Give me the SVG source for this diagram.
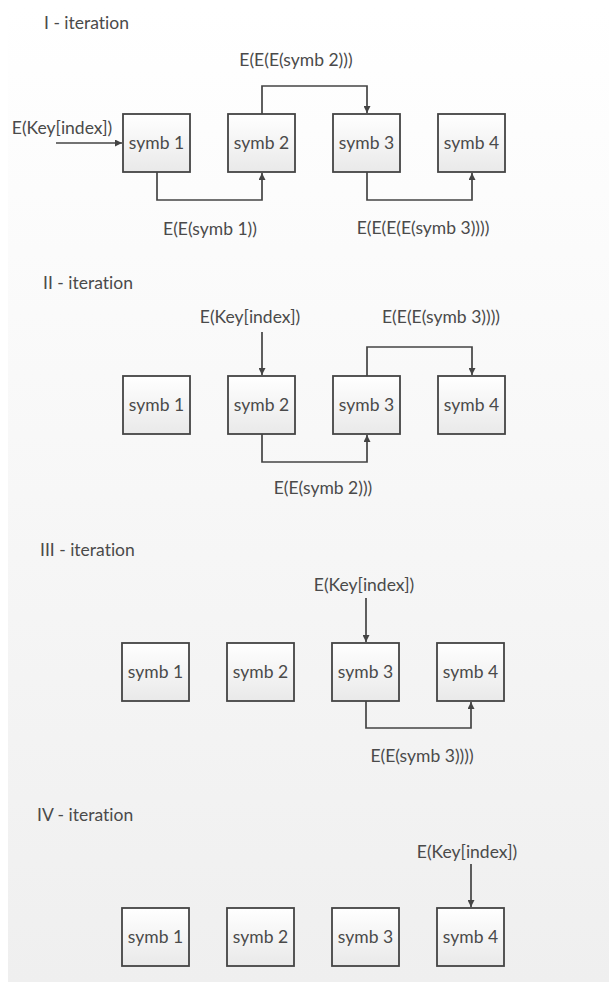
<svg xmlns="http://www.w3.org/2000/svg" width="609" height="987" viewBox="0 0 609 987">
<defs>
<linearGradient id="bg" x1="0" y1="0" x2="0" y2="1">
<stop offset="0" stop-color="#ffffff"/>
<stop offset="1" stop-color="#efefef"/>
</linearGradient>
<linearGradient id="box" x1="0" y1="0" x2="0" y2="1">
<stop offset="0" stop-color="#ffffff"/>
<stop offset="1" stop-color="#e9e9e9"/>
</linearGradient>
<marker id="arr" viewBox="0 0 10 10" refX="10" refY="5" markerWidth="7" markerHeight="7" markerUnits="userSpaceOnUse" orient="auto">
<path d="M0,0 L10,5 L0,10 z" fill="#444444"/>
</marker>
</defs>
<style>
.t{font-family:Lato,"Open Sans","Liberation Sans",sans-serif;font-size:17.5px;fill:#4a4a4a;font-variant-ligatures:none}
.m{text-anchor:middle}
.b{fill:url(#box);stroke:#444444;stroke-width:1.8}
.c{fill:none;stroke:#444444;stroke-width:1.7;marker-end:url(#arr)}
</style>
<rect x="8" y="8" width="601" height="974" fill="url(#bg)"/>

<g id="titles">
<text class="t" x="44" y="29">I - iteration</text>
<text class="t" x="43" y="289">II - iteration</text>
<text class="t" x="40" y="556">III - iteration</text>
<text class="t" x="37" y="821">IV - iteration</text>
</g>

<g id="connectors">
<path class="c" d="M56,143 H122"/>
<path class="c" d="M157,172 V200 H262 V173"/>
<path class="c" d="M262,114 V86 H367 V113"/>
<path class="c" d="M367,172 V200 H472 V173"/>
<path class="c" d="M262,332 V375"/>
<path class="c" d="M367,376 V347 H472 V375"/>
<path class="c" d="M262,434 V462 H367 V435"/>
<path class="c" d="M366,598 V642"/>
<path class="c" d="M366,701 V728 H471 V702"/>
<path class="c" d="M471,864 V907"/>
</g>

<g id="labels">
<text class="t m" x="62" y="134">E(Key[index])</text>
<text class="t m" x="296" y="66">E(E(E(symb 2)))</text>
<text class="t m" x="210" y="235">E(E(symb 1))</text>
<text class="t m" x="423" y="234">E(E(E(E(symb 3))))</text>
<text class="t m" x="250" y="323">E(Key[index])</text>
<text class="t m" x="441" y="323">E(E(E(symb 3))))</text>
<text class="t m" x="323" y="494">E(E(symb 2)))</text>
<text class="t m" x="364" y="591">E(Key[index])</text>
<text class="t m" x="422" y="762">E(E(symb 3))))</text>
<text class="t m" x="467" y="858">E(Key[index])</text>
</g>

<g id="i1-symb1"><rect class="b" x="123" y="114" width="67" height="58"/><text class="t m" x="156.5" y="149">symb 1</text></g>
<g id="i1-symb2"><rect class="b" x="228" y="114" width="67" height="58"/><text class="t m" x="261.5" y="149">symb 2</text></g>
<g id="i1-symb3"><rect class="b" x="333" y="114" width="67" height="58"/><text class="t m" x="366.5" y="149">symb 3</text></g>
<g id="i1-symb4"><rect class="b" x="438" y="114" width="67" height="58"/><text class="t m" x="471.5" y="149">symb 4</text></g>

<g id="i2-symb1"><rect class="b" x="123" y="376" width="67" height="58"/><text class="t m" x="156.5" y="411">symb 1</text></g>
<g id="i2-symb2"><rect class="b" x="228" y="376" width="67" height="58"/><text class="t m" x="261.5" y="411">symb 2</text></g>
<g id="i2-symb3"><rect class="b" x="333" y="376" width="67" height="58"/><text class="t m" x="366.5" y="411">symb 3</text></g>
<g id="i2-symb4"><rect class="b" x="438" y="376" width="67" height="58"/><text class="t m" x="471.5" y="411">symb 4</text></g>

<g id="i3-symb1"><rect class="b" x="122" y="643" width="67" height="58"/><text class="t m" x="155.5" y="678">symb 1</text></g>
<g id="i3-symb2"><rect class="b" x="227" y="643" width="67" height="58"/><text class="t m" x="260.5" y="678">symb 2</text></g>
<g id="i3-symb3"><rect class="b" x="332" y="643" width="67" height="58"/><text class="t m" x="365.5" y="678">symb 3</text></g>
<g id="i3-symb4"><rect class="b" x="437" y="643" width="67" height="58"/><text class="t m" x="470.5" y="678">symb 4</text></g>

<g id="i4-symb1"><rect class="b" x="122" y="908" width="67" height="58"/><text class="t m" x="155.5" y="943">symb 1</text></g>
<g id="i4-symb2"><rect class="b" x="227" y="908" width="67" height="58"/><text class="t m" x="260.5" y="943">symb 2</text></g>
<g id="i4-symb3"><rect class="b" x="332" y="908" width="67" height="58"/><text class="t m" x="365.5" y="943">symb 3</text></g>
<g id="i4-symb4"><rect class="b" x="437" y="908" width="67" height="58"/><text class="t m" x="470.5" y="943">symb 4</text></g>
</svg>
